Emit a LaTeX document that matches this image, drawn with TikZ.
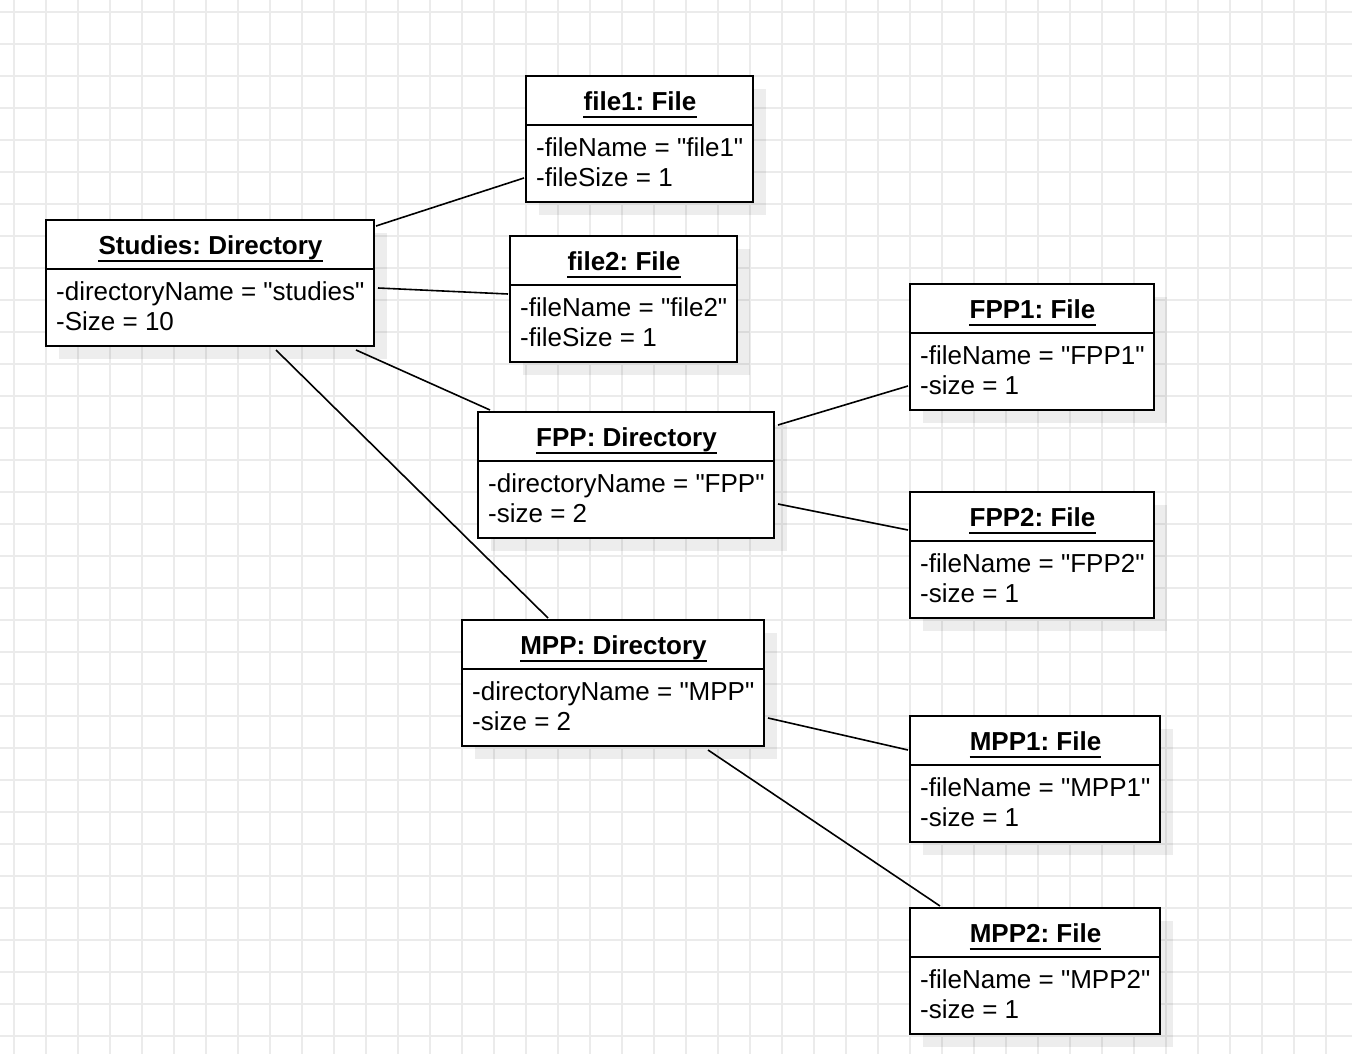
\documentclass[tikz,border=0pt]{standalone}
\usepackage{fontspec}
\setmainfont{Liberation Sans}[Ligatures=TeXOff]
\usetikzlibrary{calc}
\frenchspacing
\tikzset{
  gridline/.style={draw=black!8, line width=1.5pt},
  shadowc/.style={fill=black, fill opacity=0.07},
  umlbox/.style={draw=black, fill=white, line width=2pt, rectangle, minimum height=126pt, inner sep=0pt},
  boxline/.style={draw=black, line width=2pt},
  titletext/.style={font=\fontsize{26}{30}\selectfont\bfseries, inner sep=0pt},
  attrtext/.style={font=\fontsize{26}{30}\selectfont, inner sep=0pt},
  ulx/.style={draw=black, line width=1.6pt},
  conn/.style={draw=black, line width=1.6pt}
}
\newcommand\umlobj[7]{%
  \fill[shadowc] (#2+14,#3+14) rectangle ++(#4,126);
  \node[umlbox, minimum width=#4pt, anchor=north west] (#1) at (#2,#3) {};
  \draw[boxline] ([yshift=-50pt]#1.north west) -- ([yshift=-50pt]#1.north east);
  \node[titletext, anchor=base] (#1-t) at (#2+#4/2+1.5,#3+35.5) {#5};
  \draw[ulx] ([yshift=-6.5pt]#1-t.base west) -- ([yshift=-6.5pt]#1-t.base east);
  \node[attrtext, anchor=base west] (#1-a) at (#2+11,#3+81.5) {#6};
  \node[attrtext, anchor=base west] (#1-b) at (#2+11,#3+111.5) {#7};
}
\begin{document}
\begin{tikzpicture}[x=1pt,y=-1pt]
\useasboundingbox (0,0) rectangle (1352,1054);
\fill[white] (0,0) rectangle (1352,1054);
\foreach \gx in {14,46,...,1352} \draw[gridline] (\gx,0) -- (\gx,1054);
\foreach \gy in {12,44,...,1054} \draw[gridline] (0,\gy) -- (1352,\gy);

\umlobj{file1}{525}{75}{227}{file1: File}{-fileName = "file1"}{-fileSize = 1}
\umlobj{studies}{45}{219}{328}{Studies: Directory}{-directoryName = "studies"}{-Size = 10}
\umlobj{file2}{509}{235}{227}{file2: File}{-fileName = "file2"}{-fileSize = 1}
\umlobj{fpp1}{909}{283}{244}{FPP1: File}{-fileName = "FPP1"}{-size = 1}
\umlobj{fpp}{477}{411}{296}{FPP: Directory}{-directoryName = "FPP"}{-size = 2}
\umlobj{fpp2}{909}{491}{244}{FPP2: File}{-fileName = "FPP2"}{-size = 1}
\umlobj{mpp}{461}{619}{302}{MPP: Directory}{-directoryName = "MPP"}{-size = 2}
\umlobj{mpp1}{909}{715}{250}{MPP1: File}{-fileName = "MPP1"}{-size = 1}
\umlobj{mpp2}{909}{907}{250}{MPP2: File}{-fileName = "MPP2"}{-size = 1}

\draw[conn] ([yshift=-7pt,xshift=1pt]studies.north east) -- ([yshift=25pt,xshift=-1pt]file1.south west);
\draw[conn] ([yshift=-69pt,xshift=3pt]studies.north east) -- ([yshift=-59pt,xshift=-1pt]file2.north west);
\draw[conn] ([xshift=-19pt,yshift=-3pt]studies.south east) -- ([xshift=13pt,yshift=1pt]fpp.north west);
\draw[conn] ([xshift=231pt,yshift=-3pt]studies.south west) -- ([xshift=87pt,yshift=1pt]mpp.north west);
\draw[conn] ([yshift=-14pt,xshift=3pt]fpp.north east) -- ([yshift=-103pt,xshift=-1pt]fpp1.north west);
\draw[conn] ([yshift=-93pt,xshift=3pt]fpp.north east) -- ([yshift=-39pt,xshift=-1pt]fpp2.north west);
\draw[conn] ([yshift=-99pt,xshift=3pt]mpp.north east) -- ([yshift=-35pt,xshift=-1pt]mpp1.north west);
\draw[conn] ([xshift=247pt,yshift=-3pt]mpp.south west) -- ([xshift=31pt,yshift=1pt]mpp2.north west);
\end{tikzpicture}
\end{document}
